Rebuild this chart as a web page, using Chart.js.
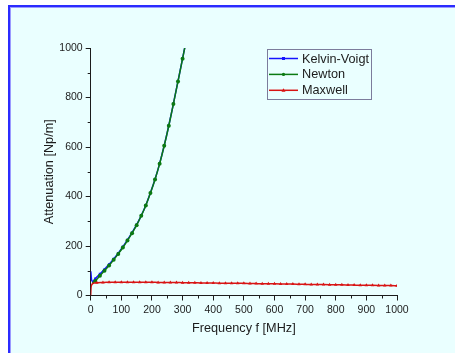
<!DOCTYPE html>
<html>
<head>
<meta charset="utf-8">
<script src="https://cdn.jsdelivr.net/npm/chart.js@4.4.1/dist/chart.umd.min.js"></script>
<style>
  html, body { margin: 0; padding: 0; background: #fff; overflow: hidden; }
  #frame { position: absolute; left: 8px; top: 5px; width: 460px; height: 360px; background: #eaffff;
           border-top: 2px solid #2b2bff; border-left: 2px solid #2b2bff; box-shadow: inset 1px 1px 0 #9a9aff; }
  #wrap { position: absolute; left: 0; top: 0; width: 455px; height: 353px; }
</style>
</head>
<body>
<div id="frame"></div>
<div id="wrap"><canvas id="grafico" width="455" height="353"></canvas></div>
<script>
// datos
const kvFreq = [0.3, 3, 6, 15, 30, 45, 60, 75, 90, 105, 120, 135, 150, 165, 180, 195, 210, 225, 240, 255, 270, 285, 300, 315];
const kvAtt  = [98, 62, 57, 68, 87, 106, 126, 148, 171, 197, 225, 254, 286, 323, 365, 415, 470, 533, 606, 687, 775, 866, 958, 1051];

const newtonFreq = [5, 15, 30, 45, 60, 75, 90, 105, 120, 135, 150, 165, 180, 195, 210, 225, 240, 255, 270, 285, 300, 315];
const newtonAtt  = [50, 59, 80, 100, 121, 144, 168, 194, 222, 252, 284, 322, 364, 414, 469, 532, 605, 686, 774, 865, 957, 1050];

const maxwellFreq = [0, 1, 3, 8, 20, 40, 60, 80, 100, 120, 140, 160, 180, 200, 220, 240, 260, 280, 300, 320, 340, 360, 380, 400,
  420, 440, 460, 480, 500, 520, 540, 560, 580, 600, 620, 640, 660, 680, 700, 720, 740, 760, 780, 800, 820, 840, 860, 880, 900,
  920, 940, 960, 980, 1000];
const maxwellAtt = [0, 30, 42, 49, 52, 53, 53.5, 54, 54, 54, 54, 54, 53.5, 53.5, 53, 53, 52.5, 52.5, 52, 52, 51.5, 51, 51, 50.5,
  50, 50, 49.5, 49, 49, 48.5, 48, 47.5, 47.5, 47, 46.5, 46, 46, 45.5, 45, 44.5, 44.5, 44, 43.5, 43, 43, 42.5, 42, 41.5, 41.5,
  41, 40.5, 40, 40, 39.5];

const minorX = [50, 150, 250, 350, 450, 550, 650, 750, 850, 950];
const minorY = [100, 300, 500, 700, 900];

const FONT = '"Liberation Sans", Arial, sans-serif';
const INK = '#1c1c1c';

function pares(xs, ys) {
  return xs.map((x, i) => ({ x: x, y: ys[i] }));
}

const extras = {
  id: 'extras',
  afterDraw(chart) {
    const ctx = chart.ctx;
    const xs = chart.scales.x, ys = chart.scales.y;
    const area = chart.chartArea;
    ctx.save();
    ctx.strokeStyle = INK;
    ctx.lineWidth = 1;
    ctx.beginPath();
    minorX.forEach(v => {
      const px = Math.round(xs.getPixelForValue(v)) + 0.5;
      ctx.moveTo(px, area.bottom); ctx.lineTo(px, area.bottom + 3);
    });
    minorY.forEach(v => {
      const py = Math.round(ys.getPixelForValue(v)) + 0.5;
      ctx.moveTo(area.left, py); ctx.lineTo(area.left - 3, py);
    });
    ctx.stroke();

    // leyenda
    const lx = Math.round(area.left + 176) + 0.5, ly = Math.round(area.top + 1) + 0.5;
    ctx.strokeStyle = '#7c7c9c';
    ctx.strokeRect(lx, ly, 104, 50);
    ctx.font = '12.7px ' + FONT;
    ctx.textBaseline = 'middle';
    chart.data.datasets.forEach((ds, i) => {
      const y = ly + 9 + i * 15.9;
      ctx.strokeStyle = ds.borderColor;
      ctx.lineWidth = 1.5;
      ctx.beginPath(); ctx.moveTo(lx + 1.5, y); ctx.lineTo(lx + 30.5, y); ctx.stroke();
      ctx.fillStyle = ds.borderColor;
      const cx = lx + 16;
      if (ds.pointStyle === 'rect') ctx.fillRect(cx - 1.5, y - 1.5, 3, 3);
      else if (ds.pointStyle === 'circle') { ctx.beginPath(); ctx.arc(cx, y, 1.6, 0, Math.PI * 2); ctx.fill(); }
      else { ctx.beginPath(); ctx.moveTo(cx, y - 2); ctx.lineTo(cx + 2, y + 1.5); ctx.lineTo(cx - 2, y + 1.5); ctx.closePath(); ctx.fill(); }
      ctx.fillStyle = INK;
      ctx.fillText(ds.label, lx + 34.5, y + 0.5);
    });
    ctx.restore();
  }
};

const chart = new Chart(document.getElementById('grafico').getContext('2d'), {
  type: 'scatter',
  data: {
    datasets: [
      {
        label: 'Kelvin-Voigt',
        data: pares(kvFreq, kvAtt),
        borderColor: '#1414ff',
        backgroundColor: '#1414ff',
        pointStyle: 'rect',
        pointRadius: c => (c.raw && c.raw.x % 15 === 0 ? 1.6 : 0),
        order: 2
      },
      {
        label: 'Newton',
        data: pares(newtonFreq, newtonAtt),
        borderColor: '#0b7a12',
        backgroundColor: '#0b7a12',
        pointStyle: 'circle',
        pointRadius: c => (c.raw && c.raw.x % 15 === 0 ? 2 : 0),
        order: 1
      },
      {
        label: 'Maxwell',
        data: pares(maxwellFreq, maxwellAtt),
        borderColor: '#d81414',
        backgroundColor: '#d81414',
        pointStyle: 'triangle',
        pointRadius: c => (c.raw && c.raw.x >= 20 ? 2 : 0),
        order: 0
      }
    ]
  },
  options: {
    responsive: false,
    animation: false,
    showLine: true,
    layout: { padding: { left: 38, top: 48, right: 58, bottom: 13 } },
    elements: {
      line: { borderWidth: 1.5, cubicInterpolationMode: 'monotone' },
      point: { borderWidth: 0, hoverRadius: 0 }
    },
    plugins: { legend: { display: false }, tooltip: { enabled: false } },
    scales: {
      x: {
        type: 'linear', min: 0, max: 1000,
        afterFit: s => { s.height = 44.5; },
        ticks: { stepSize: 100, color: INK, font: { family: FONT, size: 10.5 }, padding: 3, maxRotation: 0,
                 callback: v => String(v) },
        grid: { drawOnChartArea: false, drawTicks: true, tickLength: 5, color: INK },
        border: { display: true, color: INK, width: 1 },
        title: { display: true, text: 'Frequency f [MHz]', color: INK, font: { family: FONT, size: 12.7 } }
      },
      y: {
        type: 'linear', min: 0, max: 1000,
        afterFit: s => { s.width = 52.7; },
        ticks: { stepSize: 200, color: INK, font: { family: FONT, size: 10.5 }, padding: 3,
                 callback: v => String(v) },
        grid: { drawOnChartArea: false, drawTicks: true, tickLength: 5, color: INK },
        border: { display: true, color: INK, width: 1 },
        title: { display: true, text: 'Attenuation [Np/m]', color: INK, font: { family: FONT, size: 12.7 } }
      }
    }
  },
  plugins: [extras]
});
</script>
</body>
</html>
